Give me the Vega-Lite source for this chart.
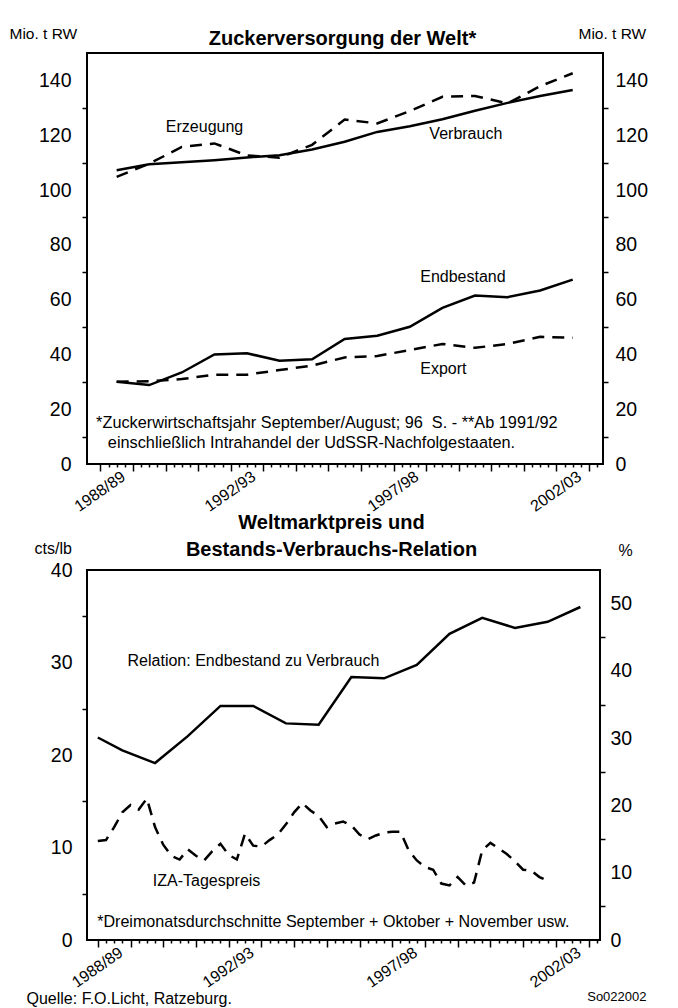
{
  "$schema": "https://vega.github.io/schema/vega-lite/v6.json",
  "background": "white",
  "padding": {"left": 8, "top": 25, "right": 0, "bottom": 0},
  "autosize": {"type": "pad"},
  "bounds": "flush",
  "spacing": 106,
  "config": {
    "font": "Liberation Sans",
    "view": {"stroke": "black", "strokeWidth": 2},
    "axis": {"labelColor": "black", "tickColor": "black", "titleColor": "black", "grid": false, "domain": false, "labelFlush": false, "labelOverlap": false, "labelBound": false, "tickWidth": 1.5},
    "text": {"color": "black"}
  },
  "datasets": {
    "versorgung": [
      {"saison": "1988/89", "t": 1988.5, "erzeugung": 104.8, "verbrauch": 107.2, "endbestand": 30.0, "export": 30.0},
      {"saison": "1989/90", "t": 1989.5, "erzeugung": 109.6, "verbrauch": 109.4, "endbestand": 28.8, "export": 30.2},
      {"saison": "1990/91", "t": 1990.5, "erzeugung": 115.7, "verbrauch": 110.1, "endbestand": 33.4, "export": 31.0},
      {"saison": "1991/92", "t": 1991.5, "erzeugung": 117.0, "verbrauch": 110.9, "endbestand": 40.0, "export": 32.6},
      {"saison": "1992/93", "t": 1992.5, "erzeugung": 112.6, "verbrauch": 111.9, "endbestand": 40.4, "export": 32.6},
      {"saison": "1993/94", "t": 1993.5, "erzeugung": 111.8, "verbrauch": 112.7, "endbestand": 37.7, "export": 34.3},
      {"saison": "1994/95", "t": 1994.5, "erzeugung": 116.5, "verbrauch": 114.8, "endbestand": 38.2, "export": 35.9},
      {"saison": "1995/96", "t": 1995.5, "erzeugung": 125.7, "verbrauch": 117.6, "endbestand": 45.6, "export": 38.9},
      {"saison": "1996/97", "t": 1996.5, "erzeugung": 124.3, "verbrauch": 121.2, "endbestand": 46.8, "export": 39.4},
      {"saison": "1997/98", "t": 1997.5, "erzeugung": 128.8, "verbrauch": 123.3, "endbestand": 50.1, "export": 41.6},
      {"saison": "1998/99", "t": 1998.5, "erzeugung": 134.0, "verbrauch": 125.8, "endbestand": 57.0, "export": 43.8},
      {"saison": "1999/00", "t": 1999.5, "erzeugung": 134.3, "verbrauch": 128.9, "endbestand": 61.5, "export": 42.4},
      {"saison": "2000/01", "t": 2000.5, "erzeugung": 131.6, "verbrauch": 131.8, "endbestand": 60.9, "export": 43.8},
      {"saison": "2001/02", "t": 2001.5, "erzeugung": 137.9, "verbrauch": 134.3, "endbestand": 63.3, "export": 46.4},
      {"saison": "2002/03", "t": 2002.5, "erzeugung": 142.6, "verbrauch": 136.5, "endbestand": 67.3, "export": 46.1}
    ],
    "relation": [
      {"t": 1988.0, "relation": 30.1},
      {"t": 1988.75, "relation": 28.2},
      {"t": 1989.75, "relation": 26.3},
      {"t": 1990.75, "relation": 30.3},
      {"t": 1991.75, "relation": 34.8},
      {"t": 1992.75, "relation": 34.8},
      {"t": 1993.75, "relation": 32.2},
      {"t": 1994.75, "relation": 32.0},
      {"t": 1995.75, "relation": 39.1},
      {"t": 1996.75, "relation": 38.9},
      {"t": 1997.75, "relation": 40.9},
      {"t": 1998.75, "relation": 45.5},
      {"t": 1999.75, "relation": 47.9},
      {"t": 2000.75, "relation": 46.4},
      {"t": 2001.75, "relation": 47.3},
      {"t": 2002.75, "relation": 49.5}
    ],
    "iza": [
      {"t": 1988.0, "preis": 10.7}, {"t": 1988.25, "preis": 10.8}, {"t": 1988.5, "preis": 12.2}, {"t": 1988.75, "preis": 13.8},
      {"t": 1989.0, "preis": 14.6}, {"t": 1989.25, "preis": 14.1}, {"t": 1989.5, "preis": 15.3}, {"t": 1989.75, "preis": 12.2},
      {"t": 1990.0, "preis": 10.3}, {"t": 1990.25, "preis": 9.1}, {"t": 1990.5, "preis": 8.7}, {"t": 1990.75, "preis": 9.8},
      {"t": 1991.0, "preis": 9.1}, {"t": 1991.25, "preis": 8.6}, {"t": 1991.5, "preis": 9.6}, {"t": 1991.75, "preis": 10.4},
      {"t": 1992.0, "preis": 9.2}, {"t": 1992.25, "preis": 8.7}, {"t": 1992.5, "preis": 11.5}, {"t": 1992.75, "preis": 10.2},
      {"t": 1993.0, "preis": 10.1}, {"t": 1993.25, "preis": 10.8}, {"t": 1993.5, "preis": 11.4}, {"t": 1993.75, "preis": 12.5},
      {"t": 1994.0, "preis": 13.8}, {"t": 1994.25, "preis": 14.8}, {"t": 1994.5, "preis": 14.0}, {"t": 1994.75, "preis": 13.4},
      {"t": 1995.0, "preis": 12.2}, {"t": 1995.25, "preis": 12.6}, {"t": 1995.5, "preis": 12.8}, {"t": 1995.75, "preis": 12.4},
      {"t": 1996.0, "preis": 11.4}, {"t": 1996.25, "preis": 10.9}, {"t": 1996.5, "preis": 11.3}, {"t": 1996.75, "preis": 11.6},
      {"t": 1997.0, "preis": 11.7}, {"t": 1997.25, "preis": 11.7}, {"t": 1997.5, "preis": 9.7}, {"t": 1997.75, "preis": 8.6},
      {"t": 1998.0, "preis": 7.9}, {"t": 1998.25, "preis": 7.6}, {"t": 1998.5, "preis": 6.1}, {"t": 1998.75, "preis": 5.9},
      {"t": 1999.0, "preis": 6.8}, {"t": 1999.25, "preis": 5.9}, {"t": 1999.5, "preis": 6.2}, {"t": 1999.75, "preis": 9.7},
      {"t": 2000.0, "preis": 10.5}, {"t": 2000.25, "preis": 9.9}, {"t": 2000.5, "preis": 9.3}, {"t": 2000.75, "preis": 8.5},
      {"t": 2001.0, "preis": 7.6}, {"t": 2001.25, "preis": 7.5}, {"t": 2001.5, "preis": 6.8}, {"t": 2001.75, "preis": 6.4}
    ]
  },
  "vconcat": [
    {
      "width": 516,
      "height": 411,
      "resolve": {"axis": {"x": "independent", "y": "independent"}},
      "data": {"name": "versorgung"},
      "layer": [
        {
          "mark": {"type": "line", "color": "black", "strokeWidth": 2.5},
          "encoding": {
            "x": {"field": "t", "type": "quantitative", "scale": {"domain": [1987.59, 2003.43], "nice": false, "zero": false},
              "axis": {"orient": "bottom", "values": [1988.5, 1992.5, 1997.5, 2002.5], "labelExpr": "floor(datum.value) + '/' + slice(toString(floor(datum.value) + 1), 2)", "ticks": false, "labelAngle": -35, "labelAlign": "right", "labelBaseline": "top", "labelPadding": 4, "labelOffset": 2, "labelFontSize": 16, "title": null}},
            "y": {"field": "verbrauch", "type": "quantitative", "scale": {"domain": [0, 150], "nice": false, "zero": true},
              "axis": {"orient": "left", "values": [0, 20, 40, 60, 80, 100, 120, 140], "ticks": false, "labelPadding": 16, "labelFontSize": 19.5, "title": "Mio. t RW", "titleAngle": 0, "titleX": -78, "titleY": -20, "titleAlign": "left", "titleBaseline": "middle", "titleFontSize": 15.5, "titleFontWeight": "normal"}}
          }
        },
        {
          "mark": {"type": "line", "color": "black", "strokeWidth": 2.5, "strokeDash": [12, 8]},
          "encoding": {
            "x": {"field": "t", "type": "quantitative", "scale": {"domain": [1987.59, 2003.43], "nice": false, "zero": false},
              "axis": {"orient": "bottom", "values": [1988, 1989, 1990, 1991, 1992, 1993, 1994, 1995, 1996, 1997, 1998, 1999, 2000, 2001, 2002, 2003], "labels": false, "tickSize": 7, "title": null}},
            "y": {"field": "erzeugung", "type": "quantitative", "scale": {"domain": [0, 150], "nice": false, "zero": true},
              "axis": {"orient": "left", "values": [10, 30, 50, 70, 90, 110, 130], "labels": false, "tickSize": 5, "title": null}}
          }
        },
        {
          "mark": {"type": "line", "color": "black", "strokeWidth": 2.5},
          "encoding": {
            "x": {"field": "t", "type": "quantitative", "scale": {"domain": [1987.59, 2003.43], "nice": false, "zero": false},
              "axis": {"orient": "bottom", "values": [1988.25, 1988.5, 1988.75, 1989.25, 1989.5, 1989.75, 1990.25, 1990.5, 1990.75, 1991.25, 1991.5, 1991.75, 1992.25, 1992.5, 1992.75, 1993.25, 1993.5, 1993.75, 1994.25, 1994.5, 1994.75, 1995.25, 1995.5, 1995.75, 1996.25, 1996.5, 1996.75, 1997.25, 1997.5, 1997.75, 1998.25, 1998.5, 1998.75, 1999.25, 1999.5, 1999.75, 2000.25, 2000.5, 2000.75, 2001.25, 2001.5, 2001.75, 2002.25, 2002.5, 2002.75, 2003.25], "labels": false, "tickSize": 3, "title": null}},
            "y": {"field": "endbestand", "type": "quantitative", "scale": {"domain": [0, 150], "nice": false, "zero": true},
              "axis": {"orient": "right", "values": [0, 20, 40, 60, 80, 100, 120, 140], "ticks": false, "labelPadding": 12, "labelFontSize": 19.5, "title": "Mio. t RW", "titleAngle": 0, "titleX": -25, "titleY": -20, "titleAlign": "left", "titleBaseline": "middle", "titleFontSize": 15.5, "titleFontWeight": "normal"}}
          }
        },
        {
          "mark": {"type": "line", "color": "black", "strokeWidth": 2.5, "strokeDash": [12, 8]},
          "encoding": {
            "x": {"field": "t", "type": "quantitative", "scale": {"domain": [1987.59, 2003.43], "nice": false, "zero": false},
              "axis": {"orient": "top", "ticks": false, "labels": false, "title": "Zuckerversorgung der Welt*", "titleX": 255, "titleY": -9, "titleAlign": "center", "titleBaseline": "alphabetic", "titleFontSize": 20, "titleFontWeight": "bold"}},
            "y": {"field": "export", "type": "quantitative", "scale": {"domain": [0, 150], "nice": false, "zero": true},
              "axis": {"orient": "right", "values": [10, 30, 50, 70, 90, 110, 130], "labels": false, "tickSize": 5, "title": null}}
          }
        },
        {
          "data": {"values": [{}]},
          "mark": {"type": "text", "text": "Erzeugung", "align": "left", "baseline": "middle", "fontSize": 16},
          "encoding": {
            "x": {"datum": 1990.01, "type": "quantitative", "scale": {"domain": [1987.59, 2003.43], "nice": false, "zero": false}, "axis": null},
            "y": {"datum": 123.1, "type": "quantitative", "scale": {"domain": [0, 150], "nice": false, "zero": true}, "axis": null}
          }
        },
        {
          "data": {"values": [{}]},
          "mark": {"type": "text", "text": "Verbrauch", "align": "left", "baseline": "middle", "fontSize": 16},
          "encoding": {
            "x": {"datum": 1998.1, "type": "quantitative", "scale": {"domain": [1987.59, 2003.43], "nice": false, "zero": false}, "axis": null},
            "y": {"datum": 120.4, "type": "quantitative", "scale": {"domain": [0, 150], "nice": false, "zero": true}, "axis": null}
          }
        },
        {
          "data": {"values": [{}]},
          "mark": {"type": "text", "text": "Endbestand", "align": "left", "baseline": "middle", "fontSize": 16},
          "encoding": {
            "x": {"datum": 1997.82, "type": "quantitative", "scale": {"domain": [1987.59, 2003.43], "nice": false, "zero": false}, "axis": null},
            "y": {"datum": 68.1, "type": "quantitative", "scale": {"domain": [0, 150], "nice": false, "zero": true}, "axis": null}
          }
        },
        {
          "data": {"values": [{}]},
          "mark": {"type": "text", "text": "Export", "align": "left", "baseline": "middle", "fontSize": 16},
          "encoding": {
            "x": {"datum": 1997.82, "type": "quantitative", "scale": {"domain": [1987.59, 2003.43], "nice": false, "zero": false}, "axis": null},
            "y": {"datum": 34.6, "type": "quantitative", "scale": {"domain": [0, 150], "nice": false, "zero": true}, "axis": null}
          }
        },
        {
          "data": {"values": [{}]},
          "mark": {"type": "text", "text": "*Zuckerwirtschaftsjahr September/August; 96\u00a0 S. - **Ab 1991/92", "align": "left", "baseline": "middle", "fontSize": 16.3},
          "encoding": {
            "x": {"datum": 1987.87, "type": "quantitative", "scale": {"domain": [1987.59, 2003.43], "nice": false, "zero": false}, "axis": null},
            "y": {"datum": 15.0, "type": "quantitative", "scale": {"domain": [0, 150], "nice": false, "zero": true}, "axis": null}
          }
        },
        {
          "data": {"values": [{}]},
          "mark": {"type": "text", "text": "einschließlich Intrahandel der UdSSR-Nachfolgestaaten.", "align": "left", "baseline": "middle", "fontSize": 16.3},
          "encoding": {
            "x": {"datum": 1988.23, "type": "quantitative", "scale": {"domain": [1987.59, 2003.43], "nice": false, "zero": false}, "axis": null},
            "y": {"datum": 7.7, "type": "quantitative", "scale": {"domain": [0, 150], "nice": false, "zero": true}, "axis": null}
          }
        }
      ]
    },
    {
      "width": 513,
      "height": 370,
      "resolve": {"scale": {"y": "independent"}, "axis": {"x": "independent", "y": "independent"}},
      "layer": [
        {
          "data": {"name": "iza"},
          "mark": {"type": "line", "color": "black", "strokeWidth": 2.5, "strokeDash": [12, 8]},
          "encoding": {
            "x": {"field": "t", "type": "quantitative", "scale": {"domain": [1987.67, 2003.35], "nice": false, "zero": false},
              "axis": {"orient": "bottom", "values": [1988.5, 1992.5, 1997.5, 2002.5], "labelExpr": "floor(datum.value) + '/' + slice(toString(floor(datum.value) + 1), 2)", "ticks": false, "labelAngle": -35, "labelAlign": "right", "labelBaseline": "top", "labelPadding": 4, "labelOffset": 2, "labelFontSize": 16, "title": "Quelle: F.O.Licht, Ratzeburg.", "titleX": -61, "titleY": 58, "titleAlign": "left", "titleBaseline": "middle", "titleFontSize": 16, "titleFontWeight": "normal"}},
            "y": {"field": "preis", "type": "quantitative", "scale": {"domain": [0, 40], "nice": false, "zero": true},
              "axis": {"orient": "left", "values": [0, 10, 20, 30, 40], "ticks": false, "labelPadding": 15, "labelFontSize": 19.5, "title": "cts/lb", "titleAngle": 0, "titleX": -53, "titleY": -22, "titleAlign": "left", "titleBaseline": "middle", "titleFontSize": 16, "titleFontWeight": "normal"}}
          }
        },
        {
          "data": {"name": "relation"},
          "mark": {"type": "line", "color": "black", "strokeWidth": 2.5},
          "encoding": {
            "x": {"field": "t", "type": "quantitative", "scale": {"domain": [1987.67, 2003.35], "nice": false, "zero": false},
              "axis": {"orient": "bottom", "values": [1988, 1989, 1990, 1991, 1992, 1993, 1994, 1995, 1996, 1997, 1998, 1999, 2000, 2001, 2002, 2003], "labels": false, "tickSize": 7, "title": "So022002", "titleX": 559, "titleY": 56, "titleAlign": "right", "titleBaseline": "middle", "titleFontSize": 13, "titleFontWeight": "normal"}},
            "y": {"field": "relation", "type": "quantitative", "scale": {"domain": [0, 55], "nice": false, "zero": true},
              "axis": {"orient": "right", "values": [0, 10, 20, 30, 40, 50], "ticks": false, "labelPadding": 10, "labelFontSize": 19.5, "title": "%", "titleAngle": 0, "titleX": 18, "titleY": -20, "titleAlign": "left", "titleBaseline": "middle", "titleFontSize": 16, "titleFontWeight": "normal"}}
          }
        },
        {
          "data": {"values": [{}]},
          "mark": {"type": "text", "text": "IZA-Tagespreis", "align": "left", "baseline": "middle", "fontSize": 16},
          "encoding": {
            "x": {"datum": 1989.68, "type": "quantitative", "scale": {"domain": [1987.67, 2003.35], "nice": false, "zero": false},
              "axis": {"orient": "bottom", "values": [1988.25, 1988.5, 1988.75, 1989.25, 1989.5, 1989.75, 1990.25, 1990.5, 1990.75, 1991.25, 1991.5, 1991.75, 1992.25, 1992.5, 1992.75, 1993.25, 1993.5, 1993.75, 1994.25, 1994.5, 1994.75, 1995.25, 1995.5, 1995.75, 1996.25, 1996.5, 1996.75, 1997.25, 1997.5, 1997.75, 1998.25, 1998.5, 1998.75, 1999.25, 1999.5, 1999.75, 2000.25, 2000.5, 2000.75, 2001.25, 2001.5, 2001.75, 2002.25, 2002.5, 2002.75, 2003.25], "labels": false, "tickSize": 3, "title": null}},
            "y": {"datum": 6.4, "type": "quantitative", "scale": {"domain": [0, 40], "nice": false, "zero": true},
              "axis": {"orient": "left", "values": [5, 15, 25, 35], "labels": false, "tickSize": 5, "title": null}}
          }
        },
        {
          "data": {"values": [{}]},
          "mark": {"type": "text", "text": "Relation: Endbestand zu Verbrauch", "align": "left", "baseline": "middle", "fontSize": 16},
          "encoding": {
            "x": {"datum": 1988.91, "type": "quantitative", "scale": {"domain": [1987.67, 2003.35], "nice": false, "zero": false}, "axis": null},
            "y": {"datum": 41.5, "type": "quantitative", "scale": {"domain": [0, 55], "nice": false, "zero": true},
              "axis": {"orient": "right", "values": [5, 15, 25, 35, 45], "labels": false, "tickSize": 5, "title": null}}
          }
        },
        {
          "data": {"values": [{}]},
          "mark": {"type": "text", "text": "*Dreimonatsdurchschnitte September + Oktober + November usw.", "align": "left", "baseline": "middle", "fontSize": 16.1},
          "encoding": {
            "x": {"datum": 1987.98, "type": "quantitative", "scale": {"domain": [1987.67, 2003.35], "nice": false, "zero": false},
              "axis": {"orient": "top", "ticks": false, "labels": false, "title": ["Weltmarktpreis und", "Bestands-Verbrauchs-Relation"], "titleX": 244, "titleY": -42, "titleAlign": "center", "titleBaseline": "alphabetic", "titleLineHeight": 27, "titleFontSize": 20, "titleFontWeight": "bold"}},
            "y": {"datum": 2.0, "type": "quantitative", "scale": {"domain": [0, 40], "nice": false, "zero": true}, "axis": null}
          }
        }
      ]
    }
  ]
}
